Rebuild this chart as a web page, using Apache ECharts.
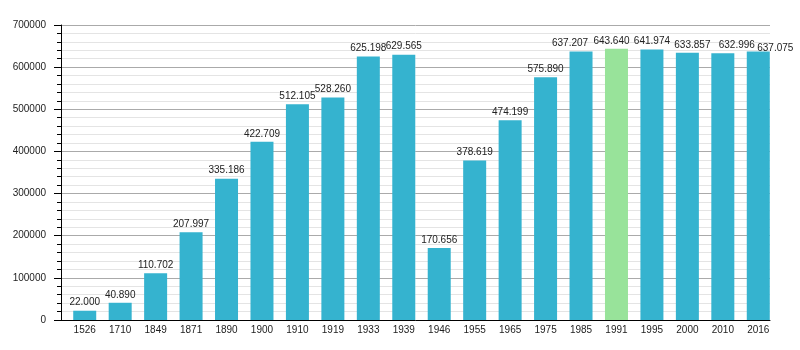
<!DOCTYPE html>
<html>
<head>
<meta charset="utf-8">
<script src="https://cdn.jsdelivr.net/npm/echarts@6/dist/echarts.min.js"></script>
<style>html,body{margin:0;padding:0;background:#fff;}#c{width:800px;height:350px;}</style>
</head>
<body>
<div id="c"></div>
<script>
const years = ['1526','1710','1849','1871','1890','1900','1910','1919','1933','1939','1946','1955','1965','1975','1985','1991','1995','2000','2010','2016'];
const population = [22000,40890,110702,207997,335186,422709,512105,528260,625198,629565,170656,378619,474199,575890,637207,643640,641974,633857,632996,637075];
const highlightYear = '1991';
const yTicks = [0,100000,200000,300000,400000,500000,600000,700000];

const FONT = '"Liberation Sans", Arial, sans-serif';
const fmt = v => String(v).replace(/\B(?=(\d{3})+(?!\d))/g, '.');

// label nudges (style only) to mimic the reference's collision-avoidance placement
const labelNudge = { '1985': [-11, 0], '1991': [-5, 0], '2000': [5, 0], '2010': [14, 0], '2016': [17, 5] };

const barData = population.map((v, i) => {
  const item = { value: v };
  if (years[i] === highlightYear) item.itemStyle = { color: '#98e39a' };
  return item;
});

const chart = echarts.init(document.getElementById('c'), null, { renderer: 'canvas' });
chart.setOption({
  animation: false,
  backgroundColor: '#fff',
  grid: [
    { left: 61, right: 30, top: 25, bottom: 30 },
    { left: 67, right: 24, top: 25, bottom: 30 }
  ],
  xAxis: [
    { gridIndex: 0, type: 'category', data: years,
      axisLine: { show: true, lineStyle: { color: '#000', width: 1 } },
      axisTick: { show: false }, axisLabel: { show: false }, splitLine: { show: false } },
    { gridIndex: 1, type: 'category', data: years,
      axisLine: { show: false }, axisTick: { show: false }, splitLine: { show: false },
      axisLabel: { margin: 5, fontSize: 10, color: '#222', fontFamily: FONT } }
  ],
  yAxis: [
    { gridIndex: 0, type: 'value', min: yTicks[0], max: yTicks[yTicks.length - 1], interval: yTicks[1] - yTicks[0],
      axisLine: { show: true, lineStyle: { color: '#000', width: 1 } },
      axisTick: { show: true, length: 7, lineStyle: { color: '#000' } },
      minorTick: { show: true, splitNumber: 5, length: 4, lineStyle: { color: '#000' } },
      splitLine: { show: true, lineStyle: { color: '#aaaaaa', width: 1 } },
      minorSplitLine: { show: true, lineStyle: { color: '#e4e4e4', width: 1 } },
      axisLabel: { margin: 15, fontSize: 10, color: '#222', fontFamily: FONT, formatter: v => String(v) } },
    { gridIndex: 1, type: 'value', min: yTicks[0], max: yTicks[yTicks.length - 1], show: false, splitLine: { show: false } }
  ],
  series: [{
    type: 'bar',
    xAxisIndex: 1, yAxisIndex: 1,
    data: barData,
    barWidth: 23,
    itemStyle: { color: '#35b3cf' },
    labelLayout: function (p) {
      const n = labelNudge[years[p.dataIndex]];
      return n ? { dx: n[0], dy: n[1], hideOverlap: false } : { hideOverlap: false };
    },
    label: { show: true, position: 'top', distance: 3, fontSize: 10, color: '#222', fontFamily: FONT,
      formatter: p => fmt(p.value) }
  }]
});
</script>
</body>
</html>
